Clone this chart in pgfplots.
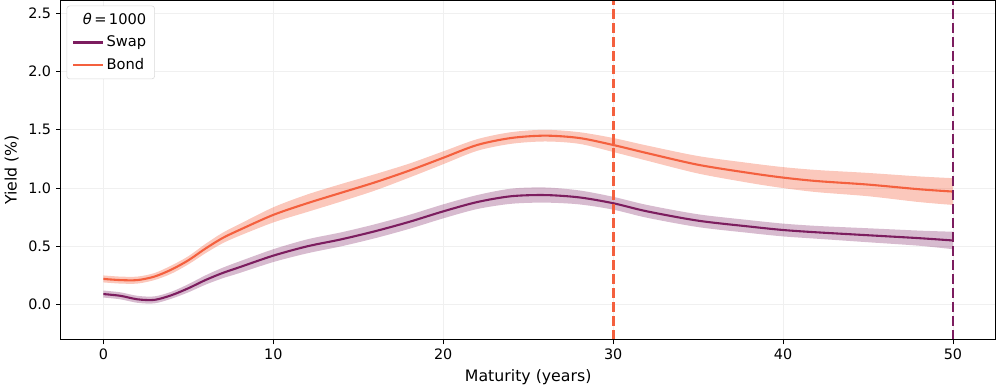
\documentclass[border=0pt]{standalone}
\usepackage{fontspec}
\setmainfont{DejaVu Sans}
\usepackage{pgfplots}
\usepackage{pgfplotstable}
\pgfplotsset{compat=1.18}
\usepgfplotslibrary{fillbetween}

\definecolor{swapc}{HTML}{7C1D5F}
\definecolor{bondc}{HTML}{F4603E}

% x, swap (mid, lo, hi), bond (mid, lo, hi)
\pgfplotstableread{
x  s     slo    shi    b     blo    bhi
0  0.090 0.060  0.120  0.220 0.190  0.250
1  0.075 0.045  0.105  0.210 0.180  0.240
2  0.045 0.015  0.075  0.210 0.180  0.240
3  0.040 0.010  0.070  0.240 0.210  0.270
4  0.080 0.050  0.110  0.300 0.265  0.335
5  0.140 0.105  0.175  0.380 0.345  0.415
6  0.210 0.170  0.250  0.480 0.440  0.520
7  0.270 0.225  0.315  0.570 0.525  0.615
8  0.320 0.270  0.370  0.640 0.590  0.690
10 0.420 0.365  0.475  0.770 0.705  0.835
12 0.500 0.440  0.560  0.870 0.795  0.945
14 0.560 0.500  0.620  0.960 0.885  1.035
16 0.630 0.570  0.690  1.050 0.980  1.120
18 0.710 0.650  0.770  1.150 1.090  1.210
20 0.800 0.740  0.860  1.260 1.205  1.315
22 0.880 0.820  0.940  1.370 1.320  1.420
24 0.930 0.865  0.995  1.430 1.380  1.480
26 0.940 0.875  1.005  1.450 1.400  1.500
28 0.920 0.860  0.980  1.430 1.380  1.480
30 0.870 0.815  0.925  1.370 1.310  1.430
32 0.800 0.745  0.855  1.300 1.235  1.365
35 0.720 0.665  0.775  1.200 1.125  1.275
38 0.670 0.615  0.725  1.130 1.045  1.215
40 0.640 0.585  0.695  1.090 1.000  1.180
42 0.620 0.565  0.675  1.060 0.965  1.155
45 0.595 0.535  0.655  1.030 0.930  1.130
48 0.570 0.505  0.635  0.990 0.880  1.100
50 0.550 0.475  0.625  0.970 0.855  1.085
}\yields

\begin{document}
\begin{tikzpicture}
\begin{axis}[
    scale only axis,
    width=670pt, height=243pt,
    xmin=-2.5, xmax=52.5,
    ymin=-0.3, ymax=2.61,
    xtick={0,10,...,50},
    ytick={0,0.5,...,2.5},
    yticklabel style={/pgf/number format/.cd, fixed, fixed zerofill, precision=1},
    /pgf/number format/assume math mode=true,
    tick align=outside,
    major tick length=3.5pt,
    tick style={black, line width=0.6pt},
    xtick pos=bottom, ytick pos=left,
    grid=major,
    grid style={gray!12, line width=0.5pt},
    axis line style={black, line width=0.8pt},
    xlabel={Maturity (years)},
    ylabel={Yield (\%)},
    ticklabel style={font=\fontsize{10.3}{12}\selectfont},
    label style={font=\fontsize{11.3}{13}\selectfont},
    legend style={draw=gray!30, rounded corners=2pt, font=\fontsize{10.5}{12.5}\selectfont,
        inner xsep=4pt, inner ysep=3pt, row sep=3pt,
        at={(0.006,0.985)}, anchor=north west},
    legend cell align=left,
    legend image code/.code={\draw[#1] (0pt,0pt) -- (21pt,0pt);},
]
\addlegendimage{empty legend}
\addlegendentry{\hspace{-17pt}{\itshape θ}\,=\,1000}
\addlegendimage{swapc, line width=1.5pt}
\addlegendentry{Swap}
\addlegendimage{bondc, line width=1.5pt}
\addlegendentry{Bond}

% bands
\addplot[name path=slo, draw=none, smooth, forget plot] table[x=x, y=slo] {\yields};
\addplot[name path=shi, draw=none, smooth, forget plot] table[x=x, y=shi] {\yields};
\addplot[swapc, fill opacity=0.3, draw=none, forget plot] fill between[of=slo and shi];
\addplot[name path=blo, draw=none, smooth, forget plot] table[x=x, y=blo] {\yields};
\addplot[name path=bhi, draw=none, smooth, forget plot] table[x=x, y=bhi] {\yields};
\addplot[bondc, fill opacity=0.35, draw=none, forget plot] fill between[of=blo and bhi];

% mean curves
\addplot[swapc, line width=1.5pt, smooth, forget plot] table[x=x, y=s] {\yields};
\addplot[bondc, line width=1.5pt, smooth, forget plot] table[x=x, y=b] {\yields};

% vertical markers
\addplot[bondc, line width=2pt, dash pattern=on 7pt off 3pt, forget plot] coordinates {(30,-0.3) (30,2.61)};
\addplot[swapc, line width=2pt, dash pattern=on 7pt off 3pt, forget plot] coordinates {(50,-0.3) (50,2.61)};
\end{axis}
\end{tikzpicture}
\end{document}
